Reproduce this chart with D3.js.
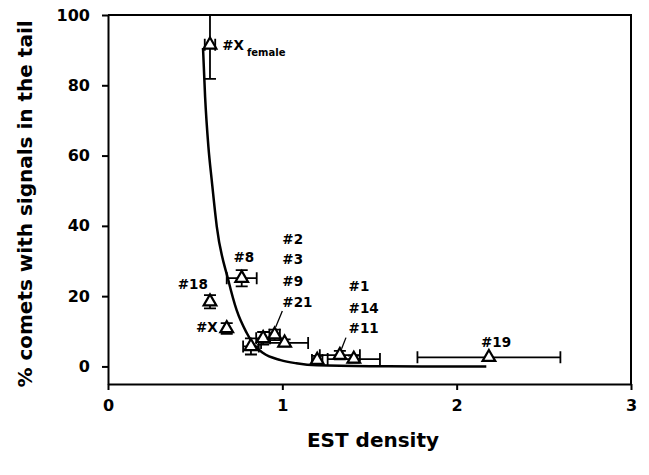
<!DOCTYPE html>
<html>
<head>
<meta charset="utf-8">
<script src="https://cdn.jsdelivr.net/npm/d3@7"></script>
<style>
  html, body { margin: 0; padding: 0; background: #fff; }
  svg { display: block; }
  text { font-family: "DejaVu Sans", sans-serif; font-weight: bold; fill: #000; }
</style>
</head>
<body>
<svg id="chart" width="649" height="475"></svg>
<script>
// ---- data ----
const pointX    = [0.585, 0.585, 0.681, 0.767, 0.820, 0.890, 0.956, 1.013, 1.200, 1.330, 1.410, 2.185];
const pointY    = [91.5, 18.4, 10.8, 25.1, 5.7, 8.0, 9.0, 6.7, 1.8, 3.2, 2.1, 2.6];
const pointXErr = [0.03, 0.0, 0.0, 0.086, 0.045, 0.04, 0.03, 0.135, 0.03, 0.115, 0.15, 0.41];
const pointYErr = [9.7, 1.9, 1.5, 2.3, 2.3, 1.8, 1.5, 1.0, 1.2, 1.2, 1.0, 0.0];

// fitted curve
const curveX = [0.545, 0.557, 0.576, 0.595, 0.624, 0.690, 0.738, 0.796, 0.830, 0.890, 0.990, 1.080, 1.200, 1.500, 1.800, 2.170];
const curveY = [90.6, 76.7, 62.5, 53.0, 39.8, 24.6, 16.0, 9.5, 6.6, 3.8, 1.8, 0.9, 0.3, 0.05, 0.0, 0.0];

const xTicks = [0, 1, 2, 3];
const yTicks = [0, 20, 40, 60, 80, 100];

// labels: text, data x, data y (anchor = start)
const labelText = ["#X", "#18", "#8", "#X", "#2", "#3", "#9", "#21", "#1", "#14", "#11", "#19"];
const labelX    = [0.655, 0.40, 0.72, 0.505, 1.0, 1.0, 1.0, 1.0, 1.38, 1.38, 1.38, 2.14];
const labelY    = [89.9, 22.1, 29.8, 9.7, 34.8, 29.2, 22.9, 16.9, 21.5, 15.2, 9.5, 5.5];

const xTitle = "EST density";
const yTitle = "% comets with signals in the tail";

// ---- drawing ----
const svg = d3.select("#chart");
const pLeft = 108, pRight = 631, pTop = 15, pBottom = 384;

const x = d3.scaleLinear().domain([0, 3]).range([pLeft, pRight]);
const y = d3.scaleLinear().domain([-5, 100]).range([pBottom, pTop]);

// frame (top, right)
svg.append("path")
  .attr("d", `M${pLeft},${pTop}H${pRight}V${pBottom}`)
  .attr("fill", "none").attr("stroke", "#000").attr("stroke-width", 2);

const xAxis = svg.append("g").attr("transform", `translate(0,${pBottom})`)
  .call(d3.axisBottom(x).tickValues(xTicks).tickFormat(d3.format("d")).tickSize(6).tickPadding(10).tickSizeOuter(0));
const yAxis = svg.append("g").attr("transform", `translate(${pLeft},0)`)
  .call(d3.axisLeft(y).tickValues(yTicks).tickFormat(d3.format("d")).tickSize(6).tickPadding(12).tickSizeOuter(0));

[xAxis, yAxis].forEach(g => {
  g.select(".domain").attr("stroke", "#000").attr("stroke-width", 2);
  g.selectAll(".tick line").attr("stroke", "#000").attr("stroke-width", 2);
  g.selectAll(".tick text").attr("font-family", "DejaVu Sans").attr("font-weight", "bold")
    .attr("font-size", 16).attr("fill", "#000");
});

// axis titles
svg.append("text").attr("x", 373).attr("y", 447).attr("text-anchor", "middle")
  .attr("font-size", 20).text(xTitle);
svg.append("text").attr("transform", `translate(32,${204}) rotate(-90)`)
  .attr("text-anchor", "middle").attr("font-size", 20).text(yTitle);

// clip for plot area
svg.append("clipPath").attr("id", "plotclip").append("rect")
  .attr("x", pLeft).attr("y", pTop).attr("width", pRight - pLeft).attr("height", pBottom - pTop);

const plot = svg.append("g").attr("clip-path", "url(#plotclip)");

// curve
const curveData = curveX.map((cx, i) => [cx, curveY[i]]);
plot.append("path").datum(curveData)
  .attr("d", d3.line().x(d => x(d[0])).y(d => y(d[1])).curve(d3.curveMonotoneX))
  .attr("fill", "none").attr("stroke", "#000").attr("stroke-width", 2.5);

// error bars
const pts = pointX.map((px, i) => ({x: px, y: pointY[i], ex: pointXErr[i], ey: pointYErr[i]}));
const cap = 6;
const eb = plot.append("g").attr("stroke", "#000").attr("stroke-width", 1.8).attr("fill", "none");
pts.forEach(p => {
  if (p.ex > 0) {
    const x0 = x(p.x - p.ex), x1 = x(p.x + p.ex), yy = y(p.y);
    eb.append("path").attr("d",
      `M${x0},${yy}H${x1}M${x0},${yy - cap}V${yy + cap}M${x1},${yy - cap}V${yy + cap}`);
  }
  if (p.ey > 0) {
    const y0 = y(p.y - p.ey), y1 = y(p.y + p.ey), xx = x(p.x);
    eb.append("path").attr("d",
      `M${xx},${y0}V${y1}M${xx - cap},${y0}H${xx + cap}M${xx - cap},${y1}H${xx + cap}`);
  }
});

// triangles
plot.selectAll("path.tri").data(pts).enter().append("path").attr("class", "tri")
  .attr("d", d3.symbol(d3.symbolTriangle).size(70))
  .attr("transform", d => `translate(${x(d.x)},${y(d.y)})`)
  .attr("fill", "#fff").attr("stroke", "#000").attr("stroke-width", 2.2);

// labels
labelText.forEach((t, i) => {
  const tx = svg.append("text").attr("x", x(labelX[i])).attr("y", y(labelY[i]))
    .attr("font-size", 13.5).text(t);
  if (i === 0) {
    tx.append("tspan").attr("dx", 3).attr("dy", 6).attr("font-size", 10).text("female");
  }
});

// pointer lines for #21 and #11
const pointerFrom = [[1.0, 15.8], [1.365, 8.2]];
const pointerTo   = [[0.962, 11.2], [1.340, 5.0]];
pointerFrom.forEach((f, i) => {
  svg.append("line")
    .attr("x1", x(f[0])).attr("y1", y(f[1]))
    .attr("x2", x(pointerTo[i][0])).attr("y2", y(pointerTo[i][1]))
    .attr("stroke", "#000").attr("stroke-width", 1.3);
});
</script>
</body>
</html>
